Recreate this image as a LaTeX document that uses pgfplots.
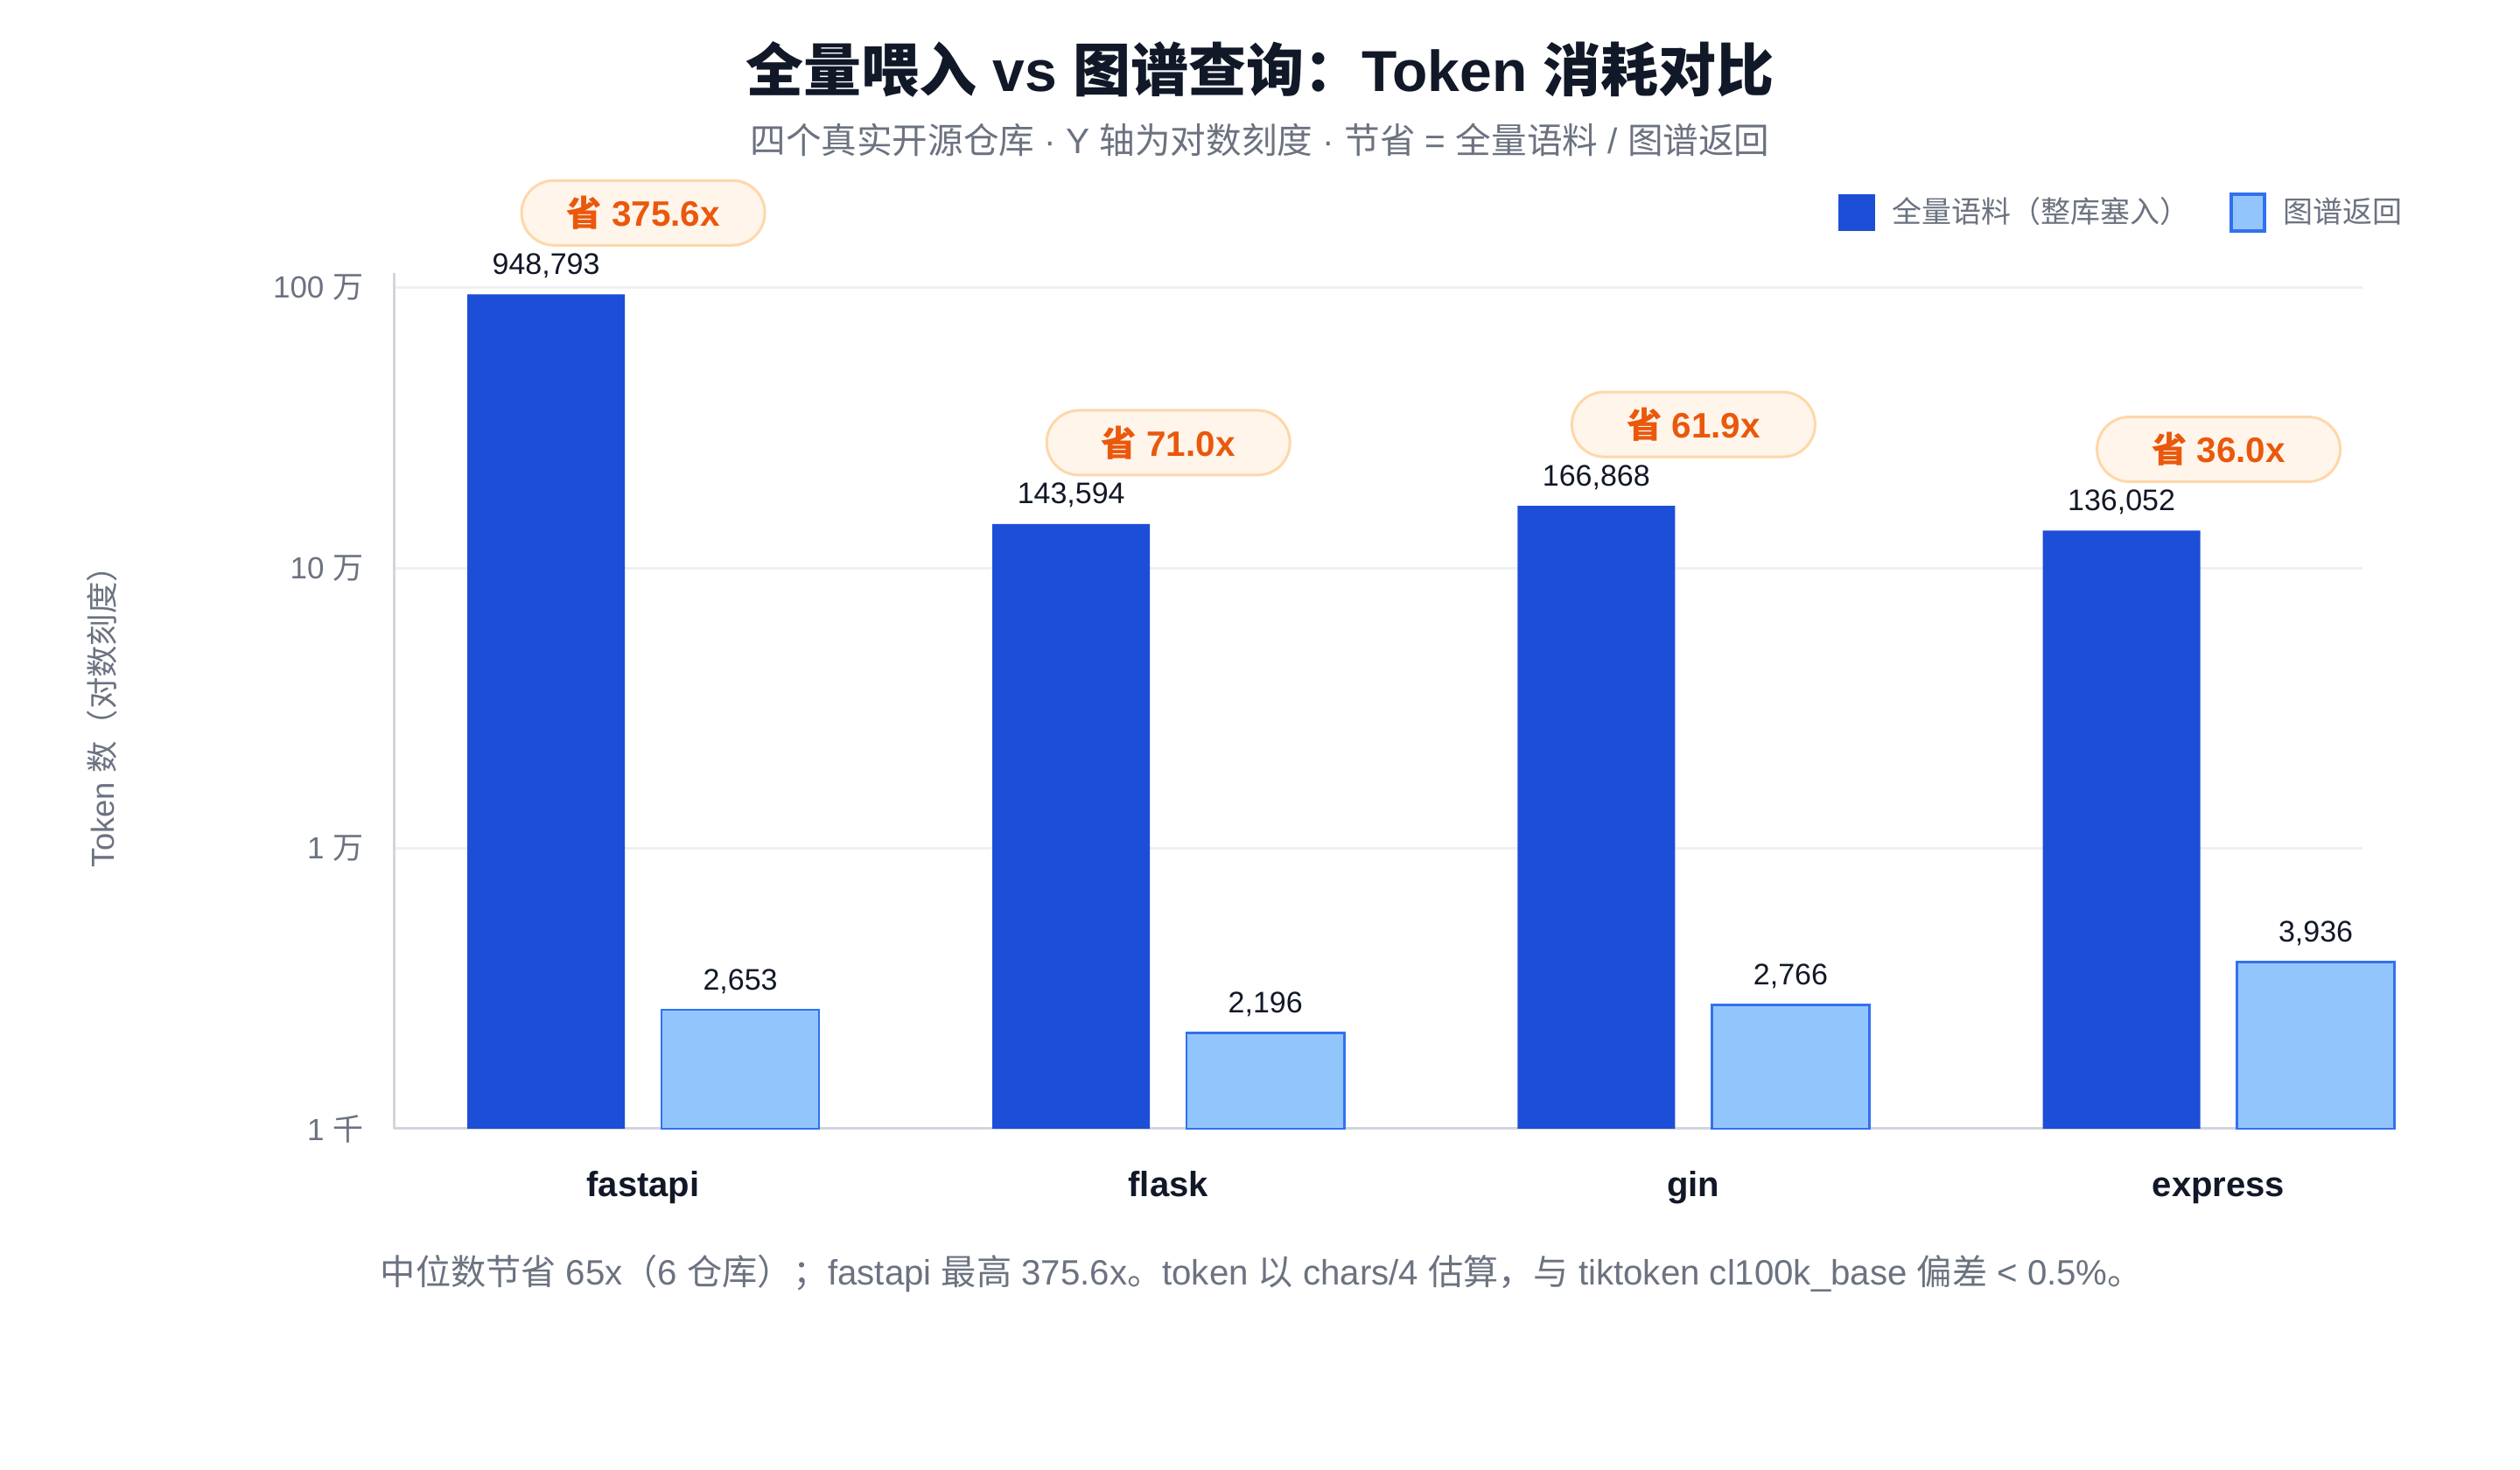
\documentclass[border=0pt]{standalone}
\usepackage{fontspec}
\setmainfont{Liberation Sans}
\newfontfamily\cjk{Noto Sans CJK SC}
\newcommand\C[1]{{\cjk #1}}
\usepackage{pgfplots}
\usepackage{pgfplotstable}
\pgfplotsset{compat=1.18}
\definecolor{darkbar}{HTML}{1D4ED8}
\definecolor{lightbar}{HTML}{93C5FD}
\definecolor{lightedge}{HTML}{3271EE}
\definecolor{txtgray}{HTML}{6B7280}
\definecolor{txtdark}{HTML}{111827}
\definecolor{gridc}{HTML}{EEF0F4}
\definecolor{axisc}{HTML}{D1D5DB}
\definecolor{badgefill}{HTML}{FFF5EB}
\definecolor{badgeedge}{HTML}{FED7AA}
\definecolor{badgetext}{HTML}{EA580C}

\pgfplotstableread{
x full fulllab graph graphlab ratio
0 948793 948,793 2653 2,653 375.6x
1 143594 143,594 2196 2,196 71.0x
2 166868 166,868 2766 2,766 61.9x
3 136052 136,052 3936 3,936 36.0x
}\datatable

\begin{document}
\begin{tikzpicture}
\useasboundingbox[fill=white] (0,0) rectangle (720pt,420pt);
\begin{axis}[
  at={(112.5pt,97.5pt)}, anchor=south west,
  scale only axis, width=562.5pt, height=244.375pt,
  ymode=log, ymin=1000, ymax=1.126e6, log origin=infty,
  xmin=-0.475, xmax=3.274,
  clip=false,
  ybar, bar width=0.3,
  axis x line*=bottom, axis y line*=left,
  axis line style={draw=axisc, line width=0.75pt, -},
  major tick length=0pt, minor tick length=0pt,
  ytick={1000,10000,100000,1000000},
  yticklabels={{1 \C{千}},{1 \C{万}},{10 \C{万}},{100 \C{万}}},
  yminorticks=false,
  ymajorgrids, grid style={draw=gridc, line width=0.75pt},
  yticklabel style={font=\fontsize{8.75}{10}\selectfont, text=txtgray, anchor=east, inner sep=0pt, xshift=-8.5pt},
  xtick={0,1,2,3},
  xticklabels={fastapi,flask,gin,express},
  xticklabel style={font=\fontsize{10}{12}\selectfont\bfseries, text=txtdark, anchor=base, inner sep=0pt, yshift=-19.5pt},
  nodes near coords style={font=\fontsize{8.5}{10}\selectfont, text=txtdark, anchor=base, inner sep=0pt, yshift=5.75pt},
  point meta=explicit symbolic,
  legend columns=2,
  legend style={draw=none, fill=none, at={(axis description cs:0.7333,1.0711)}, anchor=west,
    font=\fontsize{8.5}{10}\selectfont, text=txtgray, inner sep=0pt,
    /tikz/every odd column/.append style={column sep=5pt},
    /tikz/every even column/.append style={column sep=11.25pt},
    nodes={inner sep=0pt}},
  legend image code/.code={\path[#1] (0pt,-5.25pt) rectangle (10.5pt,5.25pt);},
]
\addplot[fill=darkbar, draw=none, bar shift=-0.185, nodes near coords] table[x=x, y=full, meta=fulllab]{\datatable};
\addlegendentry{\C{全量语料（整库塞入）}}
\addplot[fill=lightbar, draw=lightedge, line width=0.6pt, bar shift=0.185, nodes near coords,
  legend image code/.code={\path[fill=lightbar, draw=lightedge, line width=1pt] (0.5pt,-5.25pt) rectangle (10pt,5.25pt);}]
  table[x=x, y=graph, meta=graphlab]{\datatable};
\addlegendentry{\C{图谱返回}}
\addplot[forget plot, draw=none, fill=none, bar shift=0, bar width=0.0001,
  nodes near coords={\C{省} \pgfplotspointmeta},
  nodes near coords style={font=\fontsize{10.1}{12}\selectfont\bfseries, text=badgetext, anchor=center,
    fill=badgefill, draw=badgeedge, line width=0.75pt, rounded corners=9.25pt,
    minimum width=69.5pt, minimum height=18.5pt, inner sep=0pt, yshift=17.5pt}]
  table[x=x, y=full, meta=ratio]{\datatable};
\end{axis}
\node[font=\fontsize{16.5}{20}\selectfont\bfseries, text=txtdark, anchor=center] at (360pt,400.25pt)
  {\C{全量喂入} vs \C{图谱查询：}Token \C{消耗对比}};
\node[font=\fontsize{10.15}{12}\selectfont, text=txtgray, anchor=center] at (360pt,380pt)
  {\C{四个真实开源仓库} · Y \C{轴为对数刻度} · \C{节省} = \C{全量语料} / \C{图谱返回}};
\node[font=\fontsize{9.1}{11}\selectfont, text=txtgray, rotate=90, anchor=center] at (29.25pt,217.5pt)
  {Token \C{数（对数刻度）}};
\node[font=\fontsize{10.05}{12}\selectfont, text=txtgray, anchor=west, inner sep=0pt] at (108.5pt,56.2pt)
  {\C{中位数节省} 65x\C{（}6 \C{仓库）；}fastapi \C{最高} 375.6x\C{。}token \C{以} chars/4 \C{估算，与} tiktoken cl100k\_base \C{偏差} < 0.5\%\C{。}};
\end{tikzpicture}
\end{document}
